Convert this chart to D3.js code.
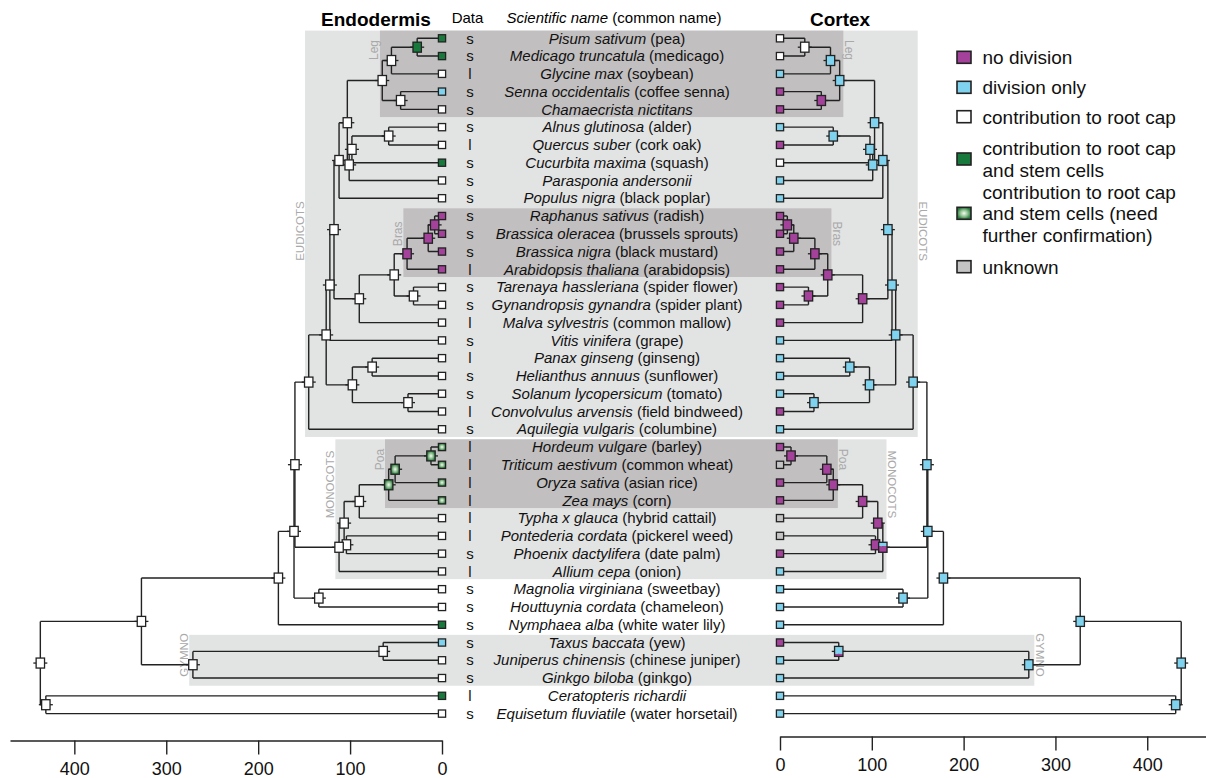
<!DOCTYPE html>
<html>
<head>
<meta charset="utf-8">
<script src="https://cdn.jsdelivr.net/npm/d3@7"></script>
<style>
  body { margin: 0; background: #fff; }
  text { font-family: "Liberation Sans", Arial, sans-serif; }
</style>
</head>
<body>
<svg id="chart" width="1206" height="778"></svg>
<script>
// ---- data ----
const species = [
  "Pisum sativum", "Medicago truncatula", "Glycine max", "Senna occidentalis", "Chamaecrista nictitans",
  "Alnus glutinosa", "Quercus suber", "Cucurbita maxima", "Parasponia andersonii", "Populus nigra",
  "Raphanus sativus", "Brassica oleracea", "Brassica nigra", "Arabidopsis thaliana", "Tarenaya hassleriana",
  "Gynandropsis gynandra", "Malva sylvestris", "Vitis vinifera", "Panax ginseng", "Helianthus annuus",
  "Solanum lycopersicum", "Convolvulus arvensis", "Aquilegia vulgaris", "Hordeum vulgare", "Triticum aestivum",
  "Oryza sativa", "Zea mays", "Typha x glauca", "Pontederia cordata", "Phoenix dactylifera",
  "Allium cepa", "Magnolia virginiana", "Houttuynia cordata", "Nymphaea alba", "Taxus baccata",
  "Juniperus chinensis", "Ginkgo biloba", "Ceratopteris richardii", "Equisetum fluviatile"
];
const commonNames = [
  "(pea)", "(medicago)", "(soybean)", "(coffee senna)", "",
  "(alder)", "(cork oak)", "(squash)", "", "(black poplar)",
  "(radish)", "(brussels sprouts)", "(black mustard)", "(arabidopsis)", "(spider flower)",
  "(spider plant)", "(common mallow)", "(grape)", "(ginseng)", "(sunflower)",
  "(tomato)", "(field bindweed)", " (columbine)", "(barley)", "(common wheat)",
  "(asian rice)", "(corn)", "(hybrid cattail)", "(pickerel weed)", "(date palm)",
  "(onion)", "(sweetbay)", "(chameleon)", "(white water lily)", "(yew)",
  "(chinese juniper)", "(ginkgo)", "", "(water horsetail)"
];
const dataKind = [
  "s","s","l","s","s","s","l","s","s","s",
  "s","s","s","l","s","s","l","s","l","s",
  "s","l","s","l","l","l","l","l","l","s",
  "l","s","s","s","s","s","s","l","s"
];

// states: P no division, B division only, W root cap, G root cap + stem cells,
// L root cap + stem cells (needs confirmation), U unknown
const endoTips = [
  "G","G","W","B","W","W","W","G","W","W",
  "P","P","P","P","W","W","W","W","W","W",
  "W","W","W","L","L","L","L","W","W","W",
  "W","W","W","G","B","W","W","G","W"
];
const cortexTips = [
  "W","W","B","P","P","B","P","W","B","B",
  "P","P","P","P","P","P","P","B","B","B",
  "B","P","B","P","U","P","P","U","U","P",
  "B","B","B","B","P","B","B","B","B"
];

// internal nodes: [name, child, child, age (My)]; children are tip indices or node names
const internalNodes = [
  ["PM", 0, 1, 27], ["PMG", "PM", 2, 55], ["SC", 3, 4, 45], ["Leg", "PMG", "SC", 65],
  ["AQ", 5, 6, 58], ["FC", "AQ", 7, 98], ["FCR", "FC", 8, 101], ["Fab1", "Leg", "FCR", 103],
  ["Fab", "Fab1", 9, 112], ["Br1", 10, 11, 8], ["Br2", "Br1", 12, 15], ["Br3", "Br2", 13, 38],
  ["TG", 14, 15, 31], ["Bs", "Br3", "TG", 52], ["Mv", "Bs", 16, 90], ["Ros", "Fab", "Mv", 117.5],
  ["RV", "Ros", 17, 122], ["PH", 18, 19, 76], ["SoC", 20, 21, 37], ["Ast", "PH", "SoC", 97.5],
  ["CE", "RV", "Ast", 126], ["Eud", "CE", 22, 145], ["HT", 23, 24, 12], ["HTO", "HT", 25, 51],
  ["Poa", "HTO", 26, 58], ["Pls", "Poa", 27, 90], ["PP", 28, 29, 104], ["Com", "Pls", "PP", 106.5],
  ["Mon", "Com", 30, 112], ["EM", "Eud", "Mon", 160], ["MH", 31, 32, 134], ["Mes", "EM", "MH", 161],
  ["Ang", "Mes", 33, 178], ["TJ", 34, 35, 64], ["Gym", "TJ", 36, 271], ["Seed", "Ang", "Gym", 327],
  ["Fern", 37, 38, 431], ["Root", "Seed", "Fern", 437]
];
const endoNodes = [
  "G","W","W","W","W","W","W","W","W","P","P","P","W",
  "W","W","W","W","W","W","W","W","W","L","L","L","W",
  "W","W","W","W","W","W","W","W","W","W","W","W"
];
const cortexNodes = [
  "W","B","P","B","B","B","B","B","B","P","P","P","P",
  "P","P","B","B","B","B","B","B","B","P","P","P","P",
  "P","P","BP","B","B","B","B","BP","B","B","B","B"
];
// split nodes (probability shares, top to bottom)
const cortexSplit = { Mon: [["B", 0.4], ["P", 0.6]], TJ: [["B", 0.75], ["P", 0.25]] };

const cladeNames = ["EUDICOTS", "MONOCOTS", "GYMNO", "Leg", "Bras", "Poa"];
const cladeFirst = [0, 23, 34, 0, 10, 23];
const cladeLast = [22, 30, 36, 4, 13, 26];
const cladeAgeEndo = [149, 116, 275, 67.5, 42, 62];
const cladeAgeCortex = [150, 116, 277, 69, 56, 63];
const cladeDark = [false, false, false, true, true, true];
const cladeLabelRow = [10.85, 25.1, 34.7, 0.66, 11, 23.7];

const axisTicks = [0, 100, 200, 300, 400];
const legendCodes = ["P", "B", "W", "G", "L", "U"];
const legendLabels = [
  ["no division"], ["division only"], ["contribution to root cap"],
  ["contribution to root cap", "and stem cells"],
  ["contribution to root cap", "and stem cells (need", "further confirmation)"],
  ["unknown"]
];

// ---- chart ----
const svg = d3.select("#chart");
const ink = "#222";
const colors = { P: "#a3419b", B: "#80d3ee", W: "#ffffff", G: "#18793d", L: "url(#confirmGrad)", U: "#c4c4c4" };

const defs = svg.append("defs");
const grad = defs.append("radialGradient").attr("id", "confirmGrad");
grad.append("stop").attr("offset", "0%").attr("stop-color", "#f4faf2");
grad.append("stop").attr("offset", "55%").attr("stop-color", "#8dbf8f");
grad.append("stop").attr("offset", "100%").attr("stop-color", "#2c7d40");

const y = d3.scaleLinear().domain([0, species.length - 1]).range([38.3, 713.6]);
const xEndo = d3.scaleLinear().domain([0, 470]).range([442, 10]);
const xCortex = d3.scaleLinear().domain([0, 464]).range([780, 1206]);
const half = (y(1) - y(0)) / 2;

// build tree
const nodeMap = new Map();
species.forEach((s, i) => nodeMap.set(i, { id: i, tip: true, age: 0, y: y(i), i }));
internalNodes.forEach(([id, a, b, age], k) => {
  const ca = nodeMap.get(a), cb = nodeMap.get(b);
  nodeMap.set(id, { id, tip: false, age, kids: [ca, cb], y: (ca.y + cb.y) / 2, k });
});
const inner = internalNodes.map(d => nodeMap.get(d[0]));
const tipNodes = species.map((s, i) => nodeMap.get(i));

// clade shading
const shade = svg.append("g");
[false, true].forEach(dark => {
  cladeNames.forEach((name, i) => {
    if (cladeDark[i] !== dark) return;
    const y0 = y(cladeFirst[i]) - half + 1.2, y1 = y(cladeLast[i]) + half - 1.2;
    const x0 = xEndo(cladeAgeEndo[i]), x1 = xCortex(cladeAgeCortex[i]);
    shade.append("rect")
      .attr("x", x0).attr("y", y0).attr("width", x1 - x0).attr("height", y1 - y0)
      .attr("fill", dark ? "#c1bfbf" : "#e2e3e3");
    const ly = y(cladeLabelRow[i]);
    [[x0 - 5.5, -90], [x1 + 5.5, 90]].forEach(([lx, rot]) => {
      shade.append("text")
        .attr("transform", `translate(${lx},${ly}) rotate(${rot})`)
        .attr("text-anchor", "middle").attr("dominant-baseline", "central")
        .attr("font-size", dark ? 12 : 11.5).attr("fill", "#a9a9a9")
        .text(name);
    });
  });
});

function drawTree(x, tipStates, nodeStates, split) {
  const g = svg.append("g");
  // branches
  g.selectAll("path.branch").data(inner).join("path")
    .attr("class", "branch")
    .attr("fill", "none").attr("stroke", ink).attr("stroke-width", 1.4)
    .attr("d", n => {
      const nx = x(n.age);
      return `M${nx},${n.kids[0].y}V${n.kids[1].y}` +
        n.kids.map(k => `M${nx},${k.y}H${x(k.age)}`).join("");
    });
  // small interval whiskers
  g.selectAll("line.whisker").data(inner).join("line")
    .attr("class", "whisker")
    .attr("x1", n => x(n.age) - 7).attr("x2", n => x(n.age) + 7)
    .attr("y1", n => n.y).attr("y2", n => n.y)
    .attr("stroke", ink).attr("stroke-width", 1.3);
  // tip squares
  g.selectAll("rect.tip").data(tipNodes).join("rect")
    .attr("class", "tip")
    .attr("x", n => x(0) - 3.6).attr("y", n => n.y - 3.6)
    .attr("width", 7.2).attr("height", 7.2)
    .attr("fill", n => colors[tipStates[n.i]])
    .attr("stroke", ink).attr("stroke-width", 1.3);
  // internal node boxes
  inner.forEach(n => {
    const bx = x(n.age) - 4.2, by = n.y - 5, bw = 8.4, bh = 10;
    const parts = split[n.id];
    if (parts) {
      let cy = by;
      parts.forEach(([c, f]) => {
        g.append("rect").attr("x", bx).attr("y", cy).attr("width", bw).attr("height", bh * f)
          .attr("fill", colors[c]);
        cy += bh * f;
      });
      g.append("rect").attr("x", bx).attr("y", by).attr("width", bw).attr("height", bh)
        .attr("fill", "none").attr("stroke", ink).attr("stroke-width", 1.3);
    } else {
      g.append("rect").attr("x", bx).attr("y", by).attr("width", bw).attr("height", bh)
        .attr("fill", colors[nodeStates[n.k]]).attr("stroke", ink).attr("stroke-width", 1.3);
    }
  });
}

drawTree(xEndo, endoTips, endoNodes, {});
drawTree(xCortex, cortexTips, cortexNodes, cortexSplit);

// species rows
const rows = svg.append("g").attr("font-size", 15).attr("fill", "#111");
species.forEach((s, i) => {
  rows.append("text").attr("x", 470).attr("y", y(i) + 5.2)
    .attr("text-anchor", "middle").text(dataKind[i]);
  const t = rows.append("text").attr("x", 617).attr("y", y(i) + 5.2).attr("text-anchor", "middle");
  t.append("tspan").attr("font-style", "italic").text(s);
  if (commonNames[i]) t.append("tspan").text(" " + commonNames[i].trim());
});

// headers
svg.append("text").attr("x", 376).attr("y", 26).attr("text-anchor", "middle")
  .attr("font-size", 19).attr("font-weight", "bold").text("Endodermis");
svg.append("text").attr("x", 840).attr("y", 26).attr("text-anchor", "middle")
  .attr("font-size", 19).attr("font-weight", "bold").text("Cortex");
svg.append("text").attr("x", 467.5).attr("y", 23).attr("text-anchor", "middle")
  .attr("font-size", 15).text("Data");
const hdr = svg.append("text").attr("x", 614).attr("y", 23).attr("text-anchor", "middle").attr("font-size", 15);
hdr.append("tspan").attr("font-style", "italic").text("Scientific name");
hdr.append("tspan").text(" (common name)");

// axes
function styleAxis(g) {
  g.selectAll("path, line").attr("stroke", ink).attr("stroke-width", 1.4);
  g.selectAll("text").attr("font-size", 18).attr("fill", "#111")
    .attr("font-family", "'Liberation Sans', Arial, sans-serif");
}
svg.append("g").attr("transform", "translate(0,740.5)")
  .call(d3.axisBottom(xEndo).tickValues(axisTicks).tickSize(14).tickPadding(8).tickSizeOuter(0))
  .call(styleAxis);
svg.append("g").attr("transform", "translate(0,736.5)")
  .call(d3.axisBottom(xCortex).tickValues(axisTicks).tickSize(14).tickPadding(8).tickSizeOuter(0))
  .call(styleAxis);

// legend (wrapped labels, leading just wide enough to keep line boxes apart)
const legendY = [57.3, 87.3, 116.7, 159, 213.3, 266.7];
const legendFont = 19;
const lineGap = 21.6;
const lg = svg.append("g");
legendCodes.forEach((c, i) => {
  lg.append("rect").attr("x", 957).attr("y", legendY[i] - 6).attr("width", 14).attr("height", 12)
    .attr("fill", colors[c]).attr("stroke", ink).attr("stroke-width", 1.6);
  const lines = legendLabels[i];
  const top = legendY[i] - (lines.length - 1) * lineGap / 2;
  const t = lg.append("text").attr("x", 982.5).attr("y", top + 6.8)
    .attr("font-size", legendFont).attr("fill", "#111");
  lines.forEach((ln, j) => {
    t.append("tspan").attr("x", 982.5).attr("dy", j === 0 ? 0 : lineGap).text(ln);
  });
});
</script>
</body>
</html>
